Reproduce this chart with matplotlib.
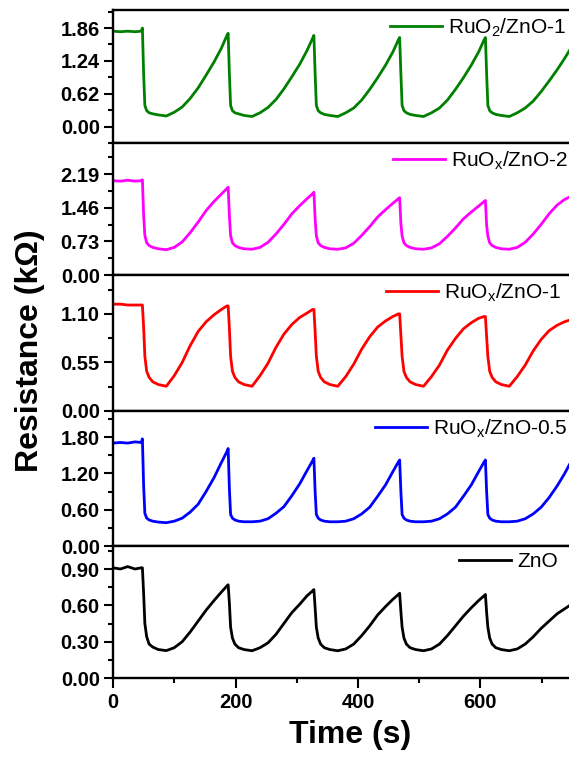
import matplotlib
import matplotlib.pyplot as plt
from matplotlib.ticker import MultipleLocator

matplotlib.use('Agg')

plt.rcParams['font.family'] = ['Liberation Sans', 'DejaVu Sans']
plt.rcParams['mathtext.fontset'] = 'custom'
plt.rcParams['mathtext.rm'] = 'Liberation Sans'

# shared time base (s)
time = [0, 12, 24, 36, 46,
        48, 50, 52, 55, 59, 65, 74, 87, 100, 113, 126, 139, 152, 165, 177, 186,
        188, 190, 192, 195, 199, 205, 214, 227, 240, 253, 266, 279, 292, 305, 317, 326,
        328, 330, 332, 335, 339, 345, 354, 367, 380, 393, 406, 419, 432, 445, 457, 466,
        468, 470, 472, 475, 479, 485, 494, 507, 520, 533, 546, 559, 572, 585, 597, 606,
        608, 610, 612, 615, 619, 625, 634, 647, 660, 673, 686, 699, 712, 725, 737, 746]

ruo2_zno_1 = [1.80, 1.79, 1.80, 1.79, 1.80,
              1.86, 1.00, 0.40, 0.30, 0.26, 0.24, 0.22, 0.20, 0.27, 0.37, 0.53, 0.73, 0.97, 1.22, 1.48, 1.72,
              1.76, 1.00, 0.40, 0.30, 0.26, 0.24, 0.21, 0.19, 0.26, 0.36, 0.51, 0.71, 0.94, 1.18, 1.44, 1.67,
              1.72, 1.00, 0.40, 0.30, 0.26, 0.23, 0.21, 0.19, 0.26, 0.35, 0.50, 0.70, 0.92, 1.16, 1.41, 1.64,
              1.68, 1.00, 0.40, 0.30, 0.26, 0.23, 0.21, 0.19, 0.26, 0.35, 0.50, 0.70, 0.92, 1.16, 1.41, 1.64,
              1.68, 1.00, 0.40, 0.30, 0.26, 0.23, 0.21, 0.19, 0.26, 0.35, 0.48, 0.66, 0.86, 1.07, 1.28, 1.45]

ruox_zno_2 = [2.05, 2.04, 2.06, 2.04, 2.05,
              2.07, 1.30, 0.86, 0.70, 0.64, 0.60, 0.57, 0.55, 0.60, 0.72, 0.92, 1.15, 1.40, 1.60, 1.76, 1.88,
              1.91, 1.30, 0.85, 0.70, 0.64, 0.60, 0.57, 0.56, 0.60, 0.71, 0.89, 1.10, 1.33, 1.51, 1.66, 1.77,
              1.80, 1.22, 0.85, 0.70, 0.64, 0.60, 0.57, 0.56, 0.59, 0.69, 0.86, 1.05, 1.26, 1.42, 1.56, 1.66,
              1.68, 1.12, 0.85, 0.70, 0.64, 0.60, 0.57, 0.56, 0.59, 0.68, 0.84, 1.02, 1.22, 1.37, 1.50, 1.60,
              1.62, 1.08, 0.85, 0.70, 0.64, 0.60, 0.57, 0.56, 0.60, 0.71, 0.89, 1.10, 1.33, 1.52, 1.64, 1.70]

ruox_zno_1 = [1.21, 1.21, 1.20, 1.20, 1.20,
              1.20, 0.95, 0.62, 0.45, 0.38, 0.33, 0.30, 0.28, 0.40, 0.55, 0.74, 0.90, 1.01, 1.09, 1.15, 1.19,
              1.19, 0.94, 0.62, 0.45, 0.38, 0.33, 0.30, 0.28, 0.40, 0.54, 0.72, 0.87, 0.98, 1.06, 1.11, 1.15,
              1.15, 0.90, 0.62, 0.45, 0.38, 0.33, 0.30, 0.28, 0.39, 0.53, 0.70, 0.84, 0.95, 1.02, 1.07, 1.10,
              1.10, 0.86, 0.62, 0.45, 0.38, 0.33, 0.30, 0.28, 0.39, 0.52, 0.69, 0.82, 0.93, 1.00, 1.05, 1.07,
              1.07, 0.84, 0.62, 0.45, 0.38, 0.33, 0.30, 0.28, 0.39, 0.52, 0.68, 0.81, 0.91, 0.97, 1.01, 1.03]

ruox_zno_05 = [1.70, 1.71, 1.70, 1.72, 1.71,
               1.77, 1.00, 0.54, 0.46, 0.43, 0.41, 0.395, 0.385, 0.41, 0.46, 0.56, 0.69, 0.90, 1.13, 1.38, 1.56,
               1.61, 0.95, 0.52, 0.46, 0.43, 0.41, 0.40, 0.40, 0.41, 0.45, 0.54, 0.65, 0.83, 1.03, 1.25, 1.41,
               1.45, 0.90, 0.52, 0.46, 0.43, 0.41, 0.40, 0.40, 0.41, 0.45, 0.53, 0.64, 0.82, 1.01, 1.23, 1.39,
               1.42, 0.90, 0.52, 0.46, 0.43, 0.41, 0.40, 0.40, 0.41, 0.45, 0.53, 0.64, 0.82, 1.01, 1.23, 1.39,
               1.42, 0.90, 0.52, 0.46, 0.43, 0.41, 0.40, 0.40, 0.41, 0.45, 0.53, 0.64, 0.80, 0.99, 1.19, 1.36]

zno = [0.91, 0.90, 0.92, 0.90, 0.91,
       0.91, 0.70, 0.45, 0.34, 0.28, 0.255, 0.235, 0.226, 0.25, 0.30, 0.38, 0.47, 0.56, 0.64, 0.71, 0.76,
       0.77, 0.62, 0.42, 0.33, 0.28, 0.25, 0.235, 0.225, 0.25, 0.29, 0.36, 0.45, 0.54, 0.61, 0.68, 0.72,
       0.73, 0.58, 0.42, 0.33, 0.28, 0.25, 0.235, 0.225, 0.24, 0.28, 0.35, 0.43, 0.52, 0.59, 0.65, 0.69,
       0.70, 0.55, 0.42, 0.33, 0.28, 0.25, 0.235, 0.225, 0.24, 0.28, 0.35, 0.43, 0.51, 0.58, 0.64, 0.68,
       0.69, 0.54, 0.42, 0.33, 0.28, 0.25, 0.235, 0.225, 0.24, 0.28, 0.34, 0.41, 0.47, 0.53, 0.57, 0.60]

labels = ['RuO$_\\mathregular{2}$/ZnO-1', 'RuO$_\\mathregular{x}$/ZnO-2',
          'RuO$_\\mathregular{x}$/ZnO-1', 'RuO$_\\mathregular{x}$/ZnO-0.5', 'ZnO']
series = [ruo2_zno_1, ruox_zno_2, ruox_zno_1, ruox_zno_05, zno]
colors = ['#008000', '#ff00ff', '#ff0000', '#0000ff', '#000000']
ylims = [(-0.31, 2.2), (0, 2.87), (0, 1.54), (0, 2.23), (0, 1.09)]
ysteps = [0.62, 0.73, 0.55, 0.60, 0.30]

# panel edges in pixels (figure is 569 x 760)
edges = [10, 143, 275, 411, 546, 678]
legend_right = [566, 568, 561, 568, 558]
left_px, xmax = 113, 760
px_per_s = 0.6125

fig = plt.figure(figsize=(5.69, 7.6), dpi=100)
W, H = 569.0, 760.0
axw = xmax * px_per_s / W

for i in range(5):
    top, bot = edges[i], edges[i + 1]
    ax = fig.add_axes([left_px / W, 1 - bot / H, axw, (bot - top) / H])
    ax.plot(time, series[i], color=colors[i], lw=2.0, label=labels[i])
    ax.set_xlim(0, xmax)
    ax.set_ylim(*ylims[i])
    ax.yaxis.set_major_locator(MultipleLocator(ysteps[i]))
    ax.yaxis.set_minor_locator(MultipleLocator(ysteps[i] / 2))
    ax.yaxis.set_major_formatter(matplotlib.ticker.FormatStrFormatter('%.2f'))
    if i == 0:
        ax.set_yticks([0, 0.62, 1.24, 1.86])
    ax.xaxis.set_major_locator(MultipleLocator(200))
    ax.xaxis.set_minor_locator(MultipleLocator(100))
    for s in ax.spines.values():
        s.set_linewidth(1.7)
    ax.tick_params(axis='y', which='major', direction='out', length=6.5, width=1.5,
                   labelsize=14.5, pad=3)
    ax.tick_params(axis='y', which='minor', direction='out', length=3.5, width=1.5)
    for lab in ax.get_yticklabels():
        lab.set_fontweight('bold')
    if i < 4:
        ax.tick_params(axis='x', which='both', bottom=False, labelbottom=False)
    else:
        ax.tick_params(axis='x', which='major', direction='out', length=7, width=1.5,
                       labelsize=14.5, pad=4)
        ax.tick_params(axis='x', which='minor', direction='out', length=3.5, width=1.5)
        for lab in ax.get_xticklabels():
            lab.set_fontweight('bold')
    ax.legend(loc='upper right',
              bbox_to_anchor=((legend_right[i] - left_px) / (xmax * px_per_s), 1 - 6.0 / (bot - top)),
              frameon=False, fontsize=15, handlelength=2.5, handletextpad=0.3,
              borderpad=0, borderaxespad=0)

fig.text(0.052, 1 - 351 / H, 'Resistance (k\u03a9)', rotation=90, ha='center', va='center',
         fontsize=23, fontweight='bold')
fig.text(0.615, 1 - 735 / H, 'Time (s)', ha='center', va='center',
         fontsize=23, fontweight='bold')

fig.savefig('out.png', dpi=100)
